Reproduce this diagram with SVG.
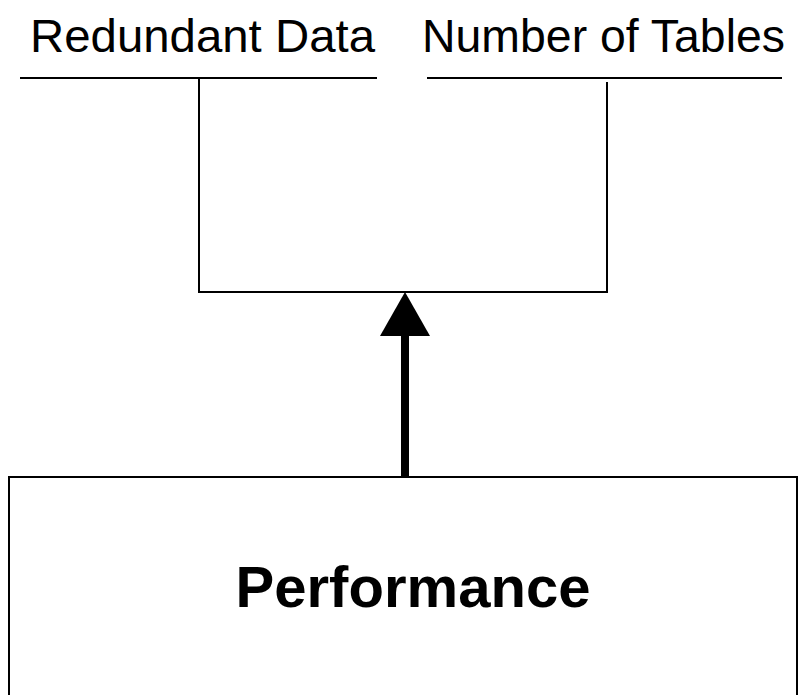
<svg xmlns="http://www.w3.org/2000/svg" width="802" height="695" viewBox="0 0 802 695">
<style>
.lbl{font-family:"Liberation Sans",Arial,sans-serif;font-size:46px;fill:#000}
.title{font-family:"Liberation Sans",Arial,sans-serif;font-size:58px;font-weight:bold;fill:#000}
.ln{stroke:#000;stroke-width:2;fill:none}
</style>
<defs>
<marker id="ah" markerWidth="6" markerHeight="5.5" refX="6" refY="2.75" orient="auto" markerUnits="strokeWidth">
<path d="M0,0 L6,2.75 L0,5.5 Z" fill="#000"/>
</marker>
</defs>
<rect width="802" height="695" fill="#fff"/>
<g id="redundant-data">
<text class="lbl" x="30" y="52" textLength="345" lengthAdjust="spacingAndGlyphs">Redundant Data</text>
<line class="ln" x1="20" y1="78" x2="377" y2="78"/>
</g>
<g id="number-of-tables">
<text class="lbl" x="422" y="52" textLength="363" lengthAdjust="spacingAndGlyphs">Number of Tables</text>
<line class="ln" x1="427" y1="78" x2="782" y2="78"/>
</g>
<g id="performance">
<path class="ln" d="M9,695 V477 H797 V695"/>
<text class="title" x="413" y="607" text-anchor="middle" textLength="355" lengthAdjust="spacingAndGlyphs">Performance</text>
</g>
<g id="connectors">
<path class="ln" d="M199,78 V292 H607 V82"/>
<line x1="405" y1="478" x2="405" y2="336" stroke="#000" stroke-width="8"/>
<path d="M405,292 L430,336 L380,336 Z" fill="#000"/>
</g>
</svg>
